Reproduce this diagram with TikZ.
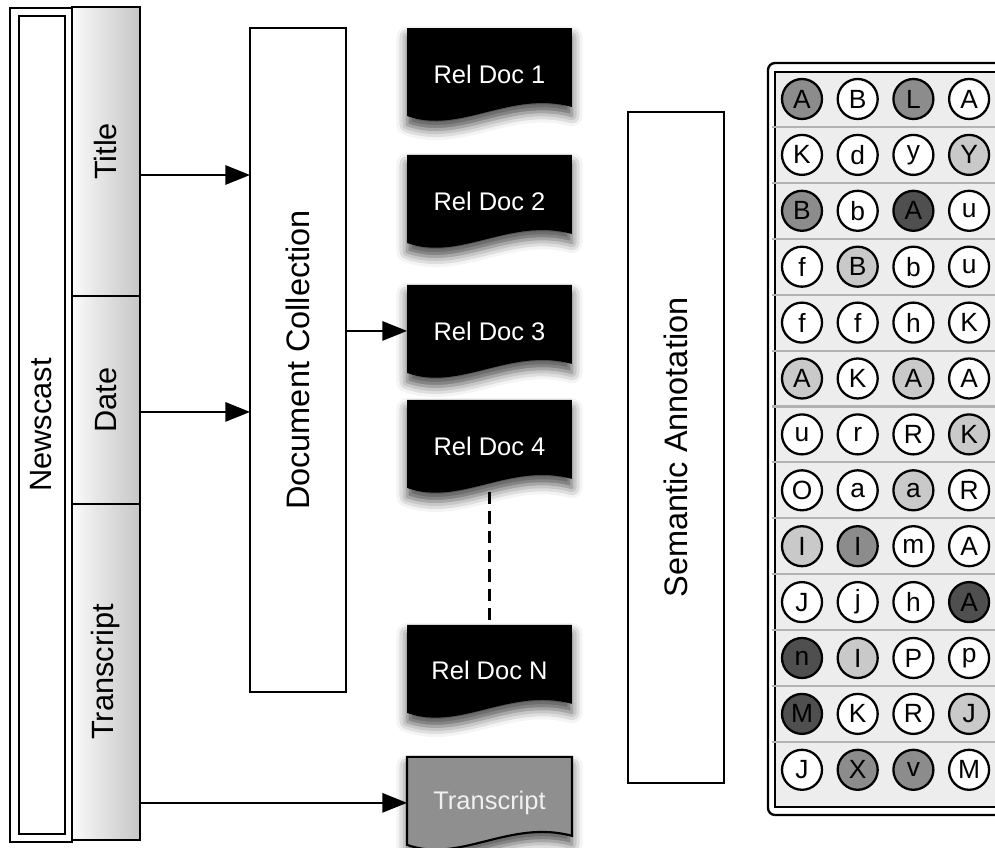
\documentclass[tikz,border=0pt]{standalone}
\usepackage{fontspec}
\setmainfont{Liberation Sans}
\usetikzlibrary{positioning, calc, arrows.meta, shadows.blur, backgrounds}

\definecolor{lite}{gray}{0.79}
\definecolor{mid}{gray}{0.55}
\definecolor{dark}{gray}{0.31}
\definecolor{panel}{gray}{0.93}
\definecolor{docgray}{gray}{0.56}

% wavy document outline behind a node
\newcommand{\docpath}[2]{%
  \begin{scope}[on background layer]
    \path[#1] (#2.north west) -- (#2.north east) -- ($(#2.south east)+(0,-13)$)
      .. controls ($(#2.south east)+(-62,-30)$) and ($(#2.south west)+(53,15)$) .. ($(#2.south west)+(0,-4)$) -- cycle;
  \end{scope}}

\begin{document}
\begin{tikzpicture}[x=0.02cm, y=-0.02cm, >={Triangle[length=14pt, width=11pt]}]
        % Styles
        \tikzset{frame/.style={rectangle, draw, line width=1.3pt, outer sep=0pt, inner sep=0pt, font=\fontsize{17.5}{20}\selectfont}}
        \tikzset{field/.style={frame, left color=gray!4, right color=gray!45, minimum width=1.36cm}}
        \tikzset{stage/.style={frame, fill=white, minimum width=1.92cm, font=\fontsize{18.5}{21}\selectfont}}
        \tikzset{reldoc/.style={rectangle, inner sep=0pt, outer sep=0pt, minimum width=3.3cm, minimum height=1.84cm, text=white, font=\fontsize{14.5}{17}\selectfont}}
        \tikzset{docfill/.style={fill=black, blur shadow={shadow xshift=0pt, shadow yshift=-5pt, shadow blur radius=6pt, shadow opacity=70}}}
        \tikzset{transfill/.style={fill=docgray, draw=black, line width=1.2pt, blur shadow={shadow xshift=0pt, shadow yshift=-5pt, shadow blur radius=6pt, shadow opacity=70}}}
        \tikzset{cell/.style={circle, draw, line width=1.3pt, minimum size=0.8cm, inner sep=0pt, font=\fontsize{15}{17}\selectfont}}
        \tikzset{link/.style={->, line width=1pt}}

        \useasboundingbox (0,0) rectangle (995,848);

        % Newscast
        \node[frame, minimum width=1.24cm, minimum height=16.68cm] (newscast) at (41,425) {\rotatebox{90}{Newscast}};
        \draw[line width=1.3pt] ($(newscast.north west)+(9,8)$) rectangle ($(newscast.south east)+(-7,-8)$);
        \node[field, minimum height=5.78cm] (title) at (106,151.5) {\rotatebox{90}{Title}};
        \node[field, minimum height=4.16cm, below=0pt of title] (date) {\rotatebox{90}{Date}};
        \node[field, minimum height=6.72cm, below=0pt of date] (transcript) {\rotatebox{90}{Transcript}};

        % Collection and annotation
        \node[stage, minimum height=13.28cm] (collect) at (298,360) {\rotatebox{90}{Document Collection}};
        \node[stage, minimum height=13.42cm] (annot) at (676,447.5) {\rotatebox{90}{Semantic Annotation}};

        % Related documents
        \node[reldoc] (doc1) at (489.5,74) {Rel Doc 1};
        \node[reldoc, below=0.7cm of doc1] (doc2) {Rel Doc 2};
        \node[reldoc, below=0.76cm of doc2] (doc3) {Rel Doc 3};
        \node[reldoc, below=0.46cm of doc3] (doc4) {Rel Doc 4};
        \node[reldoc, below=2.66cm of doc4] (docN) {Rel Doc N};
        \node[reldoc, below=0.8cm of docN, text=gray!12] (tdoc) {Transcript};
        \foreach \d in {doc1, doc2, doc3, doc4, docN} {\docpath{docfill}{\d}}
        \docpath{transfill}{tdoc}

        % Connections
        \coordinate (tout) at ($(title.east)+(0,23.5)$);
        \coordinate (dout) at ($(date.east)+(0,12)$);
        \draw[link] (tout) -- (tout -| collect.west);
        \draw[link] (dout) -- (dout -| collect.west);
        \draw[link] (collect.east |- doc3.west) -- (doc3.west);
        \draw[link] (transcript.east |- tdoc.west) -- (tdoc.west);
        \draw[line width=1.2pt, dash pattern=on 7pt off 4pt] (doc4.south) -- (docN.north);

        % Annotation grid
        \draw[line width=1.3pt, rounded corners=4pt, fill=white] (768,63) rectangle (1010,815);
        \draw[line width=1.3pt, fill=panel] (775,72) rectangle (1005,807);
        \foreach \i in {0,...,11} \draw[gray!60, line width=1.2pt] (772,127+55.9*\i) -- (1005,127+55.9*\i);
        \foreach \row [count=\i from 0] in {
            {A/mid,B/white,L/mid,A/white},
            {K/white,d/white,y/white,Y/lite},
            {B/mid,b/white,A/dark,u/white},
            {f/white,B/lite,b/white,u/white},
            {f/white,f/white,h/white,K/white},
            {A/lite,K/white,A/lite,A/white},
            {u/white,r/white,R/white,K/lite},
            {O/white,a/white,a/lite,R/white},
            {I/lite,I/mid,m/white,A/white},
            {J/white,j/white,h/white,A/dark},
            {n/dark,I/lite,P/white,p/white},
            {M/dark,K/white,R/white,J/lite},
            {J/white,X/mid,v/mid,M/white}} {
          \foreach \ch/\sh [count=\j from 0] in \row {
            \node[cell, fill=\sh] (c\i-\j) at (802+55.7*\j, 99+55.9*\i) {\ch};
          }
        }
    \end{tikzpicture}
\end{document}
